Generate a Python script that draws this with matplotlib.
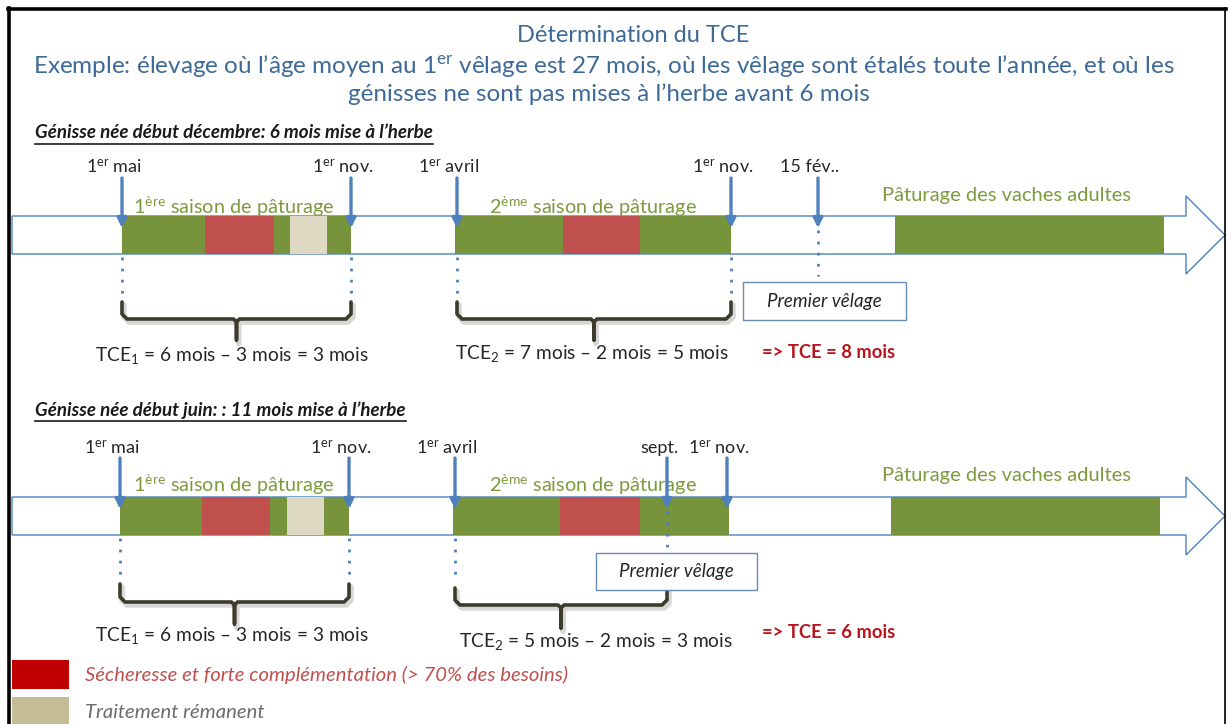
import matplotlib
matplotlib.use("Agg")
import matplotlib.pyplot as plt
from matplotlib.patches import Rectangle, Polygon
from matplotlib.lines import Line2D

plt.rcParams['font.family'] = ['Lato', 'DejaVu Sans']
plt.rcParams['mathtext.fontset'] = 'custom'
plt.rcParams['mathtext.rm'] = 'Lato'
plt.rcParams['mathtext.it'] = 'Lato:italic'
plt.rcParams['mathtext.bf'] = 'Lato:bold'

# ---------------- data ----------------
title_lines = [
    "Détermination du TCE",
    "Exemple: élevage où l’âge moyen au 1$^{\\mathrm{er}}$ vêlage est 27 mois, où les vêlage sont étalés toute l’année, et où les",
    "génisses ne sont pas mises à l’herbe avant 6 mois",
]
scenario_titles = [
    "Génisse née début décembre: 6 mois mise à l’herbe",
    "Génisse née début juin: : 11 mois mise à l’herbe",
]
season_labels = ["1$^{\\mathrm{ère}}$ saison de pâturage",
                 "2$^{\\mathrm{ème}}$ saison de pâturage",
                 "Pâturage des vaches adultes"]

# scenario 1 timeline (schematic positions along the arrow)
s1_dates = ["1$^{\\mathrm{er}}$ mai", "1$^{\\mathrm{er}}$ nov.", "1$^{\\mathrm{er}}$ avril",
            "1$^{\\mathrm{er}}$ nov.", "15 fév.."]
s1_date_pos = [122, 351, 457, 731, 818]
s1_seg_start = [122, 205, 274, 290, 327, 455, 563, 640, 895]
s1_seg_end = [205, 274, 290, 327, 351, 563, 640, 731, 1164]
s1_seg_kind = ["pat", "sech", "pat", "trait", "pat", "pat", "sech", "pat", "pat"]
s1_tce = ["TCE$_1$ = 6 mois – 3 mois = 3 mois", "TCE$_2$ = 7 mois – 2 mois = 5 mois"]
s1_total = "=> TCE = 8 mois"

# scenario 2 timeline
s2_dates = ["1$^{\\mathrm{er}}$ mai", "1$^{\\mathrm{er}}$ nov.", "1$^{\\mathrm{er}}$ avril",
            "sept.", "1$^{\\mathrm{er}}$ nov."]
s2_date_pos = [120, 349, 455, 667, 727]
s2_seg_start = [120, 202, 270, 287, 324, 453, 560, 640, 891]
s2_seg_end = [202, 270, 287, 324, 349, 560, 640, 729, 1160]
s2_seg_kind = ["pat", "sech", "pat", "trait", "pat", "pat", "sech", "pat", "pat"]
s2_tce = ["TCE$_1$ = 6 mois – 3 mois = 3 mois", "TCE$_2$ = 5 mois – 2 mois = 3 mois"]
s2_total = "=> TCE = 6 mois"

first_calving = "Premier vêlage"
legend_labels = ["Sécheresse et forte complémentation (> 70% des besoins)",
                 "Traitement rémanent"]

# ---------------- styles ----------------
seg_colors = {"pat": "#77933C", "sech": "#C0504D", "trait": "#DDD9C3"}
blue = "#4F81BD"
title_col = "#3E6A98"
olive_txt = "#7E9A3E"
txt_col = "#262626"
red_bold = "#B8141E"

fig = plt.figure(figsize=(12.28, 7.24), dpi=100)
ax = fig.add_axes([0, 0, 1, 1])
ax.set_xlim(0, 1228)
ax.set_ylim(724, 0)
ax.axis("off")

# frame
ax.add_line(Line2D([9, 9], [8, 724], color="black", lw=2.6))
ax.add_line(Line2D([8, 1226], [9, 9], color="black", lw=2.6))
ax.add_line(Line2D([1225, 1225], [8, 724], color="black", lw=1.2))

# title
title_x = [633, 604, 609]
title_y = [36, 66, 94]
title_sizes = [17, 17.5, 17.5]
for t, x, y, fs in zip(title_lines, title_x, title_y, title_sizes):
    ax.text(x, y, t, ha="center", va="center", fontsize=fs, color=title_col)

fig.canvas.draw()
renderer = fig.canvas.get_renderer()


def header(text, y):
    t = ax.text(35, y, text, ha="left", va="center", fontsize=13.5,
                fontweight="bold", fontstyle="italic", color="#1a1a1a")
    bb = t.get_window_extent(renderer=renderer)
    inv = ax.transData.inverted()
    (x0, _), (x1, _) = inv.transform([(bb.x0, bb.y0), (bb.x1, bb.y0)])
    ax.add_line(Line2D([x0, x1], [y + 11, y + 11], color="#1a1a1a", lw=1.2))


def brace(x0, x1, ytop, yh, ytip, xc=None):
    if xc is None:
        xc = (x0 + x1) / 2
    r = 5
    xs = [x0, x0, x0 + r, xc - 3, xc, xc, xc, xc + 3, x1 - r, x1, x1]
    ys = [ytop, yh - r, yh, yh, yh + 3, ytip, yh + 3, yh, yh, yh - r, ytop]
    ax.plot([x + 2 for x in xs], [y + 3 for y in ys], color="#bdbdbd", lw=4,
            alpha=0.6, solid_joinstyle="round", solid_capstyle="round")
    ax.plot(xs, ys, color="#3d3b2c", lw=2.6, solid_joinstyle="round",
            solid_capstyle="round")


def scenario(y0, dates, date_pos, seg_s, seg_e, seg_k, tce, total, calv_idx,
             calv_box, title, title_y, arrow_top, label_y, season_y, adult_y,
             brace_rows, tce_pos, total_pos, head_dy):
    header(title, title_y)
    top, bot = y0, y0 + 38
    # big arrow
    xb, xt = 1186, 1225
    pts = [(12, top), (xb, top), (xb, top - head_dy), (xt, (top + bot) / 2),
           (xb, bot + head_dy), (xb, bot), (12, bot)]
    ax.add_patch(Polygon(pts, closed=True, facecolor="white", edgecolor=blue,
                         lw=1.0, zorder=1))
    for s, e, k in zip(seg_s, seg_e, seg_k):
        ax.add_patch(Rectangle((s, top), e - s, bot - top,
                               facecolor=seg_colors[k], edgecolor="none", zorder=2))
    # season labels
    ax.text(234, season_y, season_labels[0], ha="center", va="center",
            fontsize=14.3, color=olive_txt, zorder=3)
    ax.text(593, season_y, season_labels[1], ha="center", va="center",
            fontsize=14.3, color=olive_txt, zorder=3)
    ax.text(1006, adult_y, season_labels[2], ha="center", va="center",
            fontsize=14.5, color=olive_txt, zorder=3)
    # arrows + date labels
    for i, (lab, x) in enumerate(zip(dates, date_pos)):
        ax.annotate("", xy=(x, top + 12), xytext=(x, arrow_top),
                    arrowprops=dict(arrowstyle="-|>", color=blue, lw=2.4,
                                    mutation_scale=14, shrinkA=0, shrinkB=0),
                    zorder=4)
        ax.text(x - 8, label_y, lab, ha="center", va="center", fontsize=13,
                color=txt_col)
    # dotted lines
    for j, (x, yt) in enumerate(brace_rows["dots"]):
        ax.plot([x, x], [bot + 3, yt], color=blue, lw=2, ls=(0, (1, 3)),
                zorder=3)
    xc_ = date_pos[calv_idx]
    ax.plot([xc_, xc_], [top + 14, calv_box[1] - 6], color=blue, lw=2,
            ls=(0, (1, 3)), zorder=3)
    # calving box
    bx0, by0, bx1, by1 = calv_box
    ax.add_patch(Rectangle((bx0, by0), bx1 - bx0, by1 - by0, facecolor="white",
                           edgecolor="#6a8bb0", lw=1.0, zorder=5))
    ax.text((bx0 + bx1) / 2, (by0 + by1) / 2, first_calving, ha="center",
            va="center", fontsize=13.5, fontstyle="italic", color=txt_col, zorder=6)
    # braces
    for b in brace_rows["braces"]:
        brace(*b)
    # tce texts
    for t, (x, y) in zip(tce, tce_pos):
        ax.text(x, y, t, ha="center", va="center", fontsize=13.8, color=txt_col)
    ax.text(total_pos[0], total_pos[1], total, ha="left", va="center",
            fontsize=13.2, fontweight="bold", color=red_bold)


scenario(216, s1_dates, s1_date_pos, s1_seg_start, s1_seg_end, s1_seg_kind,
         s1_tce, s1_total, 4, (743, 282, 906, 320), scenario_titles[0], 133,
         178, 167, 207, 196,
         {"dots": [(122, 300), (351, 300), (457, 300), (731, 300)],
          "braces": [(122, 351, 302, 319, 340), (457, 731, 302, 319, 340)]},
         [(232, 356), (592, 354)], (762, 353), 20)

scenario(497, s2_dates, s2_date_pos, s2_seg_start, s2_seg_end, s2_seg_kind,
         s2_tce, s2_total, 3, (596, 553, 757, 590), scenario_titles[1], 410,
         458, 448, 485, 475,
         {"dots": [(120, 582), (349, 582), (455, 582)],
          "braces": [(120, 349, 584, 602, 624), (455, 667, 588, 605, 628)]},
         [(232, 636), (596, 641)], (762, 633), 20)

# legend
leg_colors = ["#C00000", "#C4BD97"]
leg_text_colors = ["#C0504D", "#6b6b6b"]
leg_y = [660, 697]
for c, tc, y, lab in zip(leg_colors, leg_text_colors, leg_y, legend_labels):
    ax.add_patch(Rectangle((12, y), 57, 29, facecolor=c, edgecolor="none"))
    ax.text(85, y + 15, lab, ha="left", va="center", fontsize=14.6,
            fontstyle="italic", color=tc)

fig.savefig("out.png", dpi=100)
